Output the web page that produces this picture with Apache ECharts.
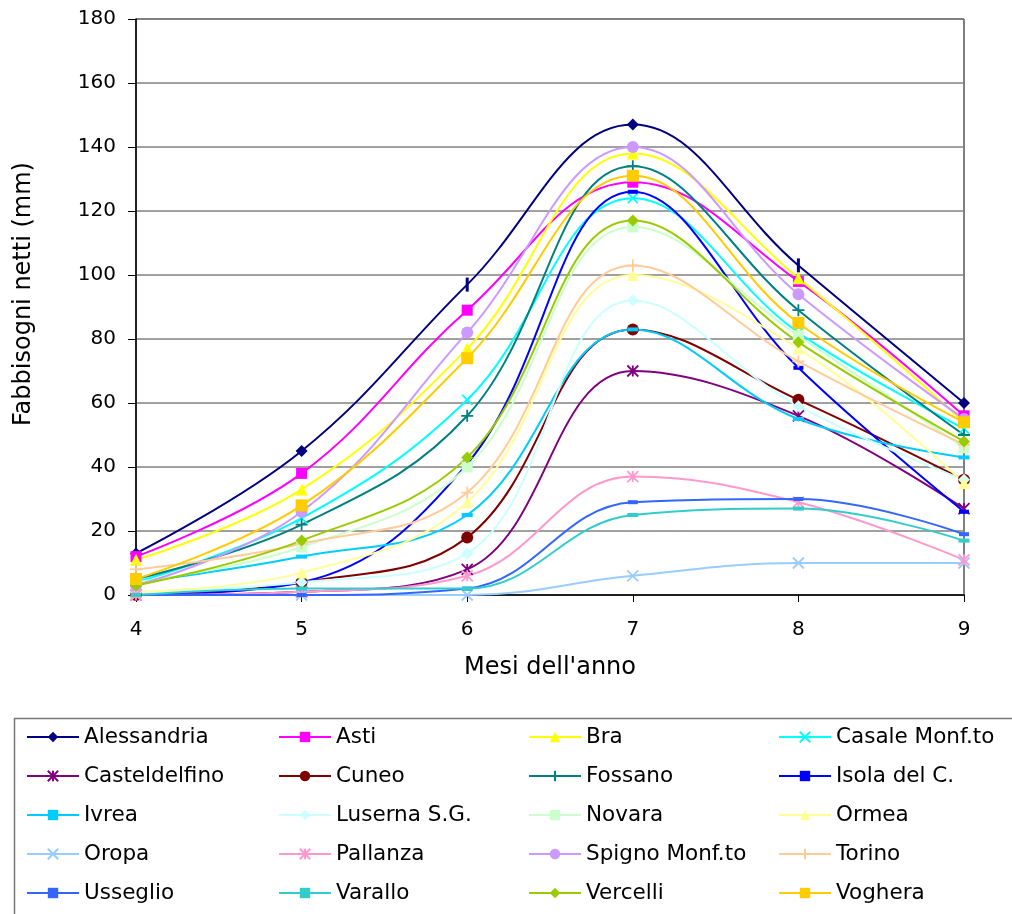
<!DOCTYPE html>
<html>
<head>
<meta charset="utf-8">
<script src="https://cdn.jsdelivr.net/npm/echarts@6/dist/echarts.min.js"></script>
<style>
html,body{margin:0;padding:0;background:#fff;}
#chart{width:1012px;height:914px;}
</style>
</head>
<body>
<div id="chart"></div>
<script>
// ---- data ----
const months = [4, 5, 6, 7, 8, 9];
const seriesNames = ["Alessandria","Asti","Bra","Casale Monf.to","Casteldelfino","Cuneo","Fossano","Isola del C.","Ivrea","Luserna S.G.","Novara","Ormea","Oropa","Pallanza","Spigno Monf.to","Torino","Usseglio","Varallo","Vercelli","Voghera"];
const alessandria  = [13, 45, 97, 147, 103, 60];
const asti         = [12, 38, 89, 129, 98, 56];
const bra          = [11, 33, 77, 138, 99, 54];
const casale       = [4, 24, 61, 124, 82, 52];
const casteldelfino= [0, 1, 8, 70, 56, 27];
const cuneo        = [0, 4, 18, 83, 61, 36];
const fossano      = [5, 22, 56, 134, 89, 50];
const isola        = [0, 4, 41, 126, 71, 26];
const ivrea        = [4, 12, 25, 83, 55, 43];
const luserna      = [1, 4, 13, 92, 59, 36];
const novara       = [4, 15, 40, 115, 81, 46];
const ormea        = [1, 7, 29, 100, 77, 35];
const oropa        = [0, 0, 0, 6, 10, 10];
const pallanza     = [0, 1, 6, 37, 29, 11];
const spigno       = [3, 26, 82, 140, 94, 55];
const torino       = [8, 16, 32, 103, 73, 47];
const usseglio     = [0, 0, 2, 29, 30, 19];
const varallo      = [0, 2, 2, 25, 27, 17];
const vercelli     = [3, 17, 43, 117, 79, 48];
const voghera      = [5, 28, 74, 131, 85, 54];
const yTicks = [0, 20, 40, 60, 80, 100, 120, 140, 160, 180];

const values = [alessandria, asti, bra, casale, casteldelfino, cuneo, fossano, isola, ivrea, luserna, novara, ormea, oropa, pallanza, spigno, torino, usseglio, varallo, vercelli, voghera];

// ---- styles ----
const colors = ["#000080","#FF00FF","#FFFF00","#00FFFF","#800080","#800000","#008080","#0000FF","#00CCFF","#CCFFFF","#CCFFCC","#FFFF99","#99CCFF","#FF99CC","#CC99FF","#FFCC99","#3366FF","#33CCCC","#99CC00","#FFCC00"];
const X = 'path://M0,0L10,10M10,0L0,10';
const PLUS = 'path://M5,0L5,10M0,5L10,5';
const STAR = 'path://M0,0L10,10M10,0L0,10M5,0L5,10';
const markers = [
  ['diamond',12,false],['rect',11,false],['triangle',12,false],[X,10,true],
  [STAR,11,true],['circle',12,false],[PLUS,12,true],['rect',[10,4],false],
  ['rect',[11,4],false],['diamond',12,false],['rect',11,false],['triangle',12,false],
  [X,11,true],[STAR,11,true],['circle',12,false],[PLUS,12,true],
  ['rect',[10,4],false],['rect',[11,4],false],['diamond',12,false],['rect',12,false]
];

const FONT = 'DejaVu Sans';
const series = seriesNames.map((name, i) => ({
  name: name,
  type: 'line',
  smooth: 0.4,
  color: colors[i],
  data: months.map((m, j) => {
    // the reference draws the first series' marker at months 6 and 8 as a thin bar
    if (i === 0 && (j === 2 || j === 4)) {
      return { value: [m, values[i][j]], symbol: 'rect', symbolSize: [3, 14] };
    }
    return [m, values[i][j]];
  }),
  symbol: markers[i][0],
  symbolSize: markers[i][1],
  showSymbol: true,
  lineStyle: { width: 2, color: colors[i] },
  itemStyle: markers[i][2]
    ? { color: colors[i], borderColor: colors[i], borderWidth: 1.8 }
    : { color: colors[i], borderWidth: 0 },
  emphasis: { disabled: true },
  animation: false
}));

const colLefts = [26, 278, 528, 778];
const legends = colLefts.map((left, c) => ({
  orient: 'vertical',
  left: left,
  top: 726,
  padding: 0,
  itemWidth: 52,
  itemHeight: 13,
  itemGap: 17,
  selectedMode: false,
  data: [0,1,2,3,4].map(r => seriesNames[r*4 + c]),
  textStyle: { fontFamily: FONT, fontSize: 21.5, color: '#000', lineHeight: 22 }
}));

const chart = echarts.init(document.getElementById('chart'), null, { renderer: 'canvas' });
chart.setOption({
  backgroundColor: '#fff',
  animation: false,
  grid: { left: 136, right: 48, top: 19, bottom: 319, show: true, borderColor: '#000', borderWidth: 1, backgroundColor: 'transparent', containLabel: false },
  xAxis: {
    type: 'value', min: 4, max: 9, interval: 1,
    name: "Mesi dell'anno", nameLocation: 'middle', nameGap: 61,
    nameTextStyle: { fontFamily: FONT, fontSize: 24, color: '#000' },
    axisLine: { lineStyle: { color: '#000', width: 1.5 } },
    axisTick: { show: true, length: 7, inside: false, lineStyle: { color: '#000' } },
    axisLabel: { fontFamily: FONT, fontSize: 20, color: '#000', margin: 25 },
    splitLine: { show: false }
  },
  yAxis: {
    type: 'value', min: yTicks[0], max: yTicks[yTicks.length-1], interval: 20,
    axisLine: { show: true, lineStyle: { color: '#000', width: 1.5 } },
    axisTick: { show: true, length: 8, inside: false, lineStyle: { color: '#000' } },
    axisLabel: { fontFamily: FONT, fontSize: 20, color: '#000', margin: 20 },
    splitLine: { show: true, lineStyle: { color: '#808080', width: 1.5 } }
  },
  legend: legends,
  graphic: [
    { type: 'rect', left: 12, top: 716, shape: { width: 1010, height: 210 }, style: { fill: 'none', stroke: '#777', lineWidth: 1.5 }, z: -1 },
    { type: 'text', x: 24, y: 294, rotation: Math.PI / 2,
      style: { text: 'Fabbisogni netti (mm)', fontFamily: FONT, fontSize: 24, fill: '#000', align: 'center', verticalAlign: 'middle' } }
  ],
  series: series
});
</script>
</body>
</html>
